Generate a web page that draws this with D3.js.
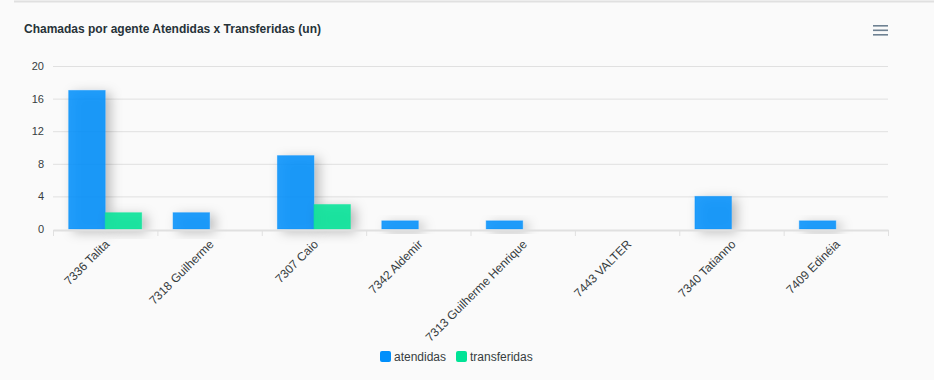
<!DOCTYPE html>
<html><head><meta charset="utf-8">
<script src="https://cdn.jsdelivr.net/npm/d3@7"></script>
<style>
html,body{margin:0;padding:0;background:#fafafa;}
svg{display:block;font-family:Helvetica, Arial, "Liberation Sans", sans-serif;}
</style></head>
<body>
<svg id="chart" width="934" height="380"></svg>
<script>
const categories = ["7336 Talita","7318 Guilherme","7307 Caio","7342 Aldemir","7313 Guilherme Henrique","7443 VALTER","7340 Tatianno","7409 Edinéia"];
const atendidas = [17,2,9,1,1,0,4,1];
const transferidas = [2,0,3,0,0,0,0,0];
const yTicks = [0,4,8,12,16,20];
const seriesNames = ["atendidas","transferidas"];
const seriesColors = ["#008FFB","#00E396"];
const title = "Chamadas por agente Atendidas x Transferidas (un)";

const svg = d3.select("#chart");
const W = 934, H = 380;
const m = {left:53, right:46, top:66, bottom:151};
const x = d3.scaleBand().domain(categories).range([m.left, W - m.right]);
const y = d3.scaleLinear().domain([0,20]).range([H - m.bottom, m.top]);
const xs = d3.scaleBand().domain(seriesNames).range([0, x.bandwidth()]).paddingInner(0).paddingOuter(0.43);

const defs = svg.append("defs");
const f = defs.append("filter").attr("id","shadow").attr("x","-60%").attr("y","-60%").attr("width","220%").attr("height","220%");
f.append("feDropShadow").attr("dx",5).attr("dy",3).attr("stdDeviation",6).attr("flood-color","#000").attr("flood-opacity",0.3);

// card top border
svg.append("line").attr("x1",14).attr("x2",W).attr("y1",1.5).attr("y2",1.5).attr("stroke","#e0e0e0").attr("stroke-width",2);

// title
svg.append("text").attr("x",24).attr("y",33).text(title)
  .attr("font-size",12).attr("font-weight","bold").attr("fill","#263238");

// menu icon
const menu = svg.append("g").attr("fill","#6E8192");
[0,1,2].forEach(i => menu.append("rect").attr("x",873).attr("y",25 + i*4.5).attr("width",15).attr("height",1.6));

// gridlines
svg.append("g").selectAll("line").data(yTicks.filter(d=>d>0)).join("line")
  .attr("x1",m.left).attr("x2",W-m.right).attr("y1",d=>y(d)+0.5).attr("y2",d=>y(d)+0.5)
  .attr("stroke","#e0e0e0");

// y axis labels
const yAxis = svg.append("g").attr("transform",`translate(${m.left-9},0)`)
  .call(d3.axisLeft(y).tickValues(yTicks).tickSize(0).tickPadding(0));
yAxis.select(".domain").remove();
yAxis.selectAll("text").attr("font-size",11).attr("fill","#373d3f").attr("font-family","Helvetica, Arial, sans-serif");

// bars
const groups = svg.append("g").selectAll("g").data(categories).join("g")
  .attr("transform", d => `translate(${x(d)},0)`);
const seriesData = [atendidas, transferidas];
groups.each(function(c, i){
  const g = d3.select(this);
  seriesNames.forEach((s, k) => {
    const v = seriesData[k][i];
    if (v <= 0) return;
    g.append("rect")
      .attr("x", xs(s)).attr("width", xs.bandwidth())
      .attr("y", y(v)).attr("height", y(0) - y(v))
      .attr("fill", seriesColors[k]).attr("fill-opacity",0.86)
      .attr("stroke", seriesColors[k]).attr("stroke-opacity",0.45).attr("stroke-width",1)
      .attr("filter","url(#shadow)");
  });
});

// x axis
const xAxis = svg.append("g").attr("transform",`translate(0,${y(0)+1})`)
  .call(d3.axisBottom(x).tickSize(0).tickPadding(0));
xAxis.select(".domain").attr("stroke","#e0e0e0").attr("stroke-width",2);
xAxis.selectAll(".tick").remove();
const tickPos = categories.map(c => x(c)).concat([W - m.right]);
svg.append("g").selectAll("line").data(tickPos).join("line")
  .attr("x1",d=>d+0.5).attr("x2",d=>d+0.5).attr("y1",y(0)+1).attr("y2",y(0)+7)
  .attr("stroke","#e0e0e0");
svg.append("g").selectAll("text").data(categories).join("text")
  .attr("transform", d => `translate(${x(d)+x.bandwidth()/2+2},${y(0)+13}) rotate(-45)`)
  .attr("text-anchor","end").attr("dy","0.35em")
  .attr("font-size",12).attr("fill","#373d3f")
  .text(d => d);

// legend
const legend = svg.append("g");
const lItems = [{n:"atendidas",x:380},{n:"transferidas",x:456}];
lItems.forEach((it,k) => {
  legend.append("rect").attr("x",it.x).attr("y",351).attr("width",11).attr("height",11).attr("rx",2)
    .attr("fill",seriesColors[k]);
  legend.append("text").attr("x",it.x+14).attr("y",361).text(it.n)
    .attr("font-size",12).attr("fill","#373d3f");
});
</script>
</body></html>
